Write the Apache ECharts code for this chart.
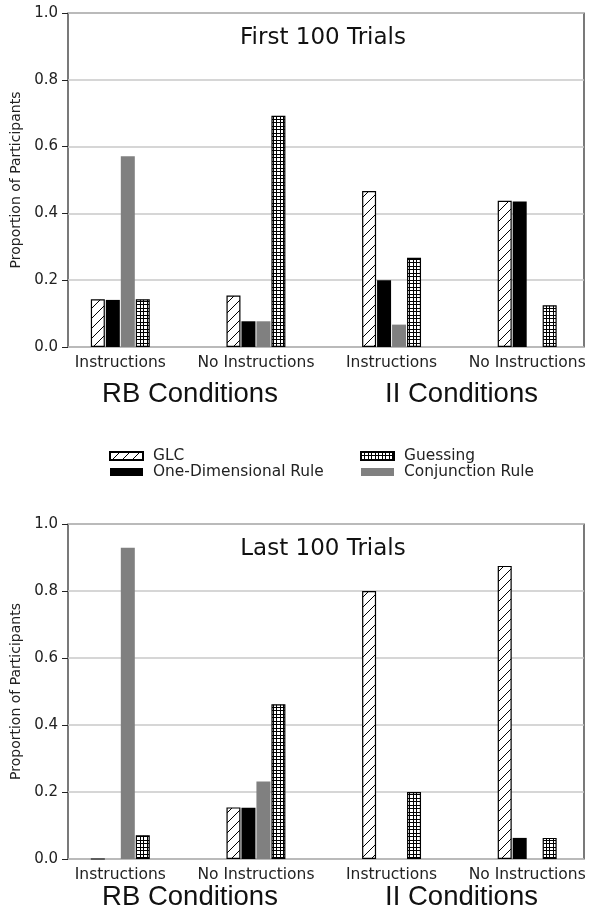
<!DOCTYPE html>
<html>
<head>
<meta charset="utf-8">
<script src="https://cdn.jsdelivr.net/npm/echarts@6/dist/echarts.min.js"></script>
<style>
html,body{margin:0;padding:0;background:#fff;}
#c{width:595px;height:915px;}
</style>
</head>
<body>
<div id="c"></div>
<script>
// ---- data ----
const categories = ['Instructions', 'No Instructions', 'Instructions', 'No Instructions'];
const seriesNames = ['GLC', 'One-Dimensional Rule', 'Conjunction Rule', 'Guessing'];
const yTicks = [0, 0.2, 0.4, 0.6, 0.8, 1.0];

const firstGLC    = [0.143, 0.154, 0.467, 0.438];
const firstOneDim = [0.141, 0.077, 0.200, 0.436];
const firstConj   = [0.571, 0.077, 0.067, 0];
const firstGuess  = [0.143, 0.692, 0.267, 0.125];

const lastGLC     = [0, 0.154, 0.800, 0.875];
const lastOneDim  = [0, 0.153, 0, 0.063];
const lastConj    = [0.929, 0.231, 0, 0];
const lastGuess   = [0.071, 0.462, 0.200, 0.063];

const panelTitles = ['First 100 Trials', 'Last 100 Trials'];
const groupLabels = ['RB Conditions', 'II Conditions'];
const yAxisName = 'Proportion of Participants';

// ---- patterns ----
function hatchPattern() {
  const c = document.createElement('canvas');
  c.width = 10; c.height = 10;
  const g = c.getContext('2d');
  g.fillStyle = '#fff'; g.fillRect(0, 0, 10, 10);
  g.strokeStyle = '#000'; g.lineWidth = 1;
  g.beginPath();
  g.moveTo(-1, 11); g.lineTo(11, -1);
  g.moveTo(-6, 6); g.lineTo(6, -6);
  g.moveTo(4, 16); g.lineTo(16, 4);
  g.stroke();
  return { image: c, repeat: 'repeat' };
}
function gridPattern() {
  const c = document.createElement('canvas');
  c.width = 7; c.height = 7;
  const g = c.getContext('2d');
  g.fillStyle = '#fff'; g.fillRect(0, 0, 7, 7);
  g.fillStyle = '#000';
  g.fillRect(0, 0, 7, 1); g.fillRect(0, 3, 7, 1);
  g.fillRect(0, 0, 1, 7); g.fillRect(3, 0, 1, 7);
  return { image: c, repeat: 'repeat' };
}
const hatch = hatchPattern();
const gridp = gridPattern();

const styles = {
  'GLC': { color: hatch, borderColor: '#000', borderWidth: 1.2 },
  'One-Dimensional Rule': { color: '#000', borderWidth: 0 },
  'Conjunction Rule': { color: '#808080', borderWidth: 0 },
  'Guessing': { color: gridp, borderColor: '#000', borderWidth: 1.2 }
};

const panels = [
  { top: 13, height: 334, data: [firstGLC, firstOneDim, firstConj, firstGuess] },
  { top: 524, height: 335, data: [lastGLC, lastOneDim, lastConj, lastGuess] }
];

const FONT = '"DejaVu Sans", Verdana, sans-serif';
const plotLeft = 68, plotWidth = 516;
const barLeft = 52.5, barWidth = 548;

const grid = [], xAxis = [], yAxis = [], series = [];
panels.forEach((p, pi) => {
  const gFrame = grid.length;
  grid.push({ left: plotLeft, top: p.top, width: plotWidth, height: p.height, show: true,
    borderColor: '#222', borderWidth: 1.2, backgroundColor: 'transparent', containLabel: false });
  grid.push({ left: barLeft, top: p.top, width: barWidth, height: p.height, show: false, containLabel: false });
  xAxis.push({ gridIndex: gFrame, type: 'value', min: 0, max: 1, show: false });
  yAxis.push({ gridIndex: gFrame, type: 'value', min: 0, max: 1, interval: 0.2,
    name: yAxisName, nameLocation: 'middle', nameGap: 40, nameRotate: 90,
    nameTextStyle: { fontFamily: FONT, fontSize: 14, color: '#222' },
    axisLine: { show: false },
    axisTick: { show: true, length: 6, lineStyle: { color: '#222', width: 1 } },
    axisLabel: { fontFamily: FONT, fontSize: 15, color: '#222', margin: 10,
      formatter: v => v.toFixed(1) },
    splitLine: { show: true, lineStyle: { color: '#c8c8c8', width: 1.5 } } });
  xAxis.push({ gridIndex: gFrame + 1, type: 'category', data: categories, dedplication: false,
    axisLine: { show: false }, axisTick: { show: false },
    axisLabel: { interval: 0, fontFamily: FONT, fontSize: 15.5, color: '#222', margin: 8 } });
  yAxis.push({ gridIndex: gFrame + 1, type: 'value', min: 0, max: 1, show: false });
  seriesNames.forEach((name, si) => {
    series.push({
      type: 'bar', name: name, xAxisIndex: gFrame + 1, yAxisIndex: gFrame + 1,
      data: p.data[si], barWidth: 14, barGap: '7%', silent: true,
      itemStyle: styles[name], animation: false
    });
  });
});

const graphic = [];
panels.forEach((p, pi) => {
  graphic.push({ type: 'text', x: 323, y: p.top + 25, silent: true,
    style: { text: panelTitles[pi], font: '23px ' + FONT, fill: '#111', textAlign: 'center', textVerticalAlign: 'middle' } });
});
const groupY = [394, 897];
groupY.forEach(y => {
  graphic.push({ type: 'text', x: 190, y: y, silent: true,
    style: { text: groupLabels[0], font: '27.5px "Liberation Sans", Arial, sans-serif', fill: '#111', textAlign: 'center', textVerticalAlign: 'middle' } });
  graphic.push({ type: 'text', x: 461.5, y: y, silent: true,
    style: { text: groupLabels[1], font: '27.5px "Liberation Sans", Arial, sans-serif', fill: '#111', textAlign: 'center', textVerticalAlign: 'middle' } });
});

const legendCommon = { orient: 'vertical', itemWidth: 33, itemHeight: 8, itemGap: 1, icon: 'rect',
  selectedMode: false, padding: 0,
  textStyle: { fontFamily: FONT, fontSize: 15.4, color: '#222', lineHeight: 15, padding: [0, 0, 0, 5] } };

const option = {
  backgroundColor: '#fff',
  animation: false,
  grid, xAxis, yAxis, series, graphic,
  legend: [
    Object.assign({}, legendCommon, { left: 109, top: 448.5, data: ['GLC', 'One-Dimensional Rule'] }),
    Object.assign({}, legendCommon, { left: 360, top: 448.5, data: ['Guessing', 'Conjunction Rule'] })
  ]
};

const chart = echarts.init(document.getElementById('c'), null, { renderer: 'canvas' });
chart.setOption(option);
</script>
</body>
</html>
